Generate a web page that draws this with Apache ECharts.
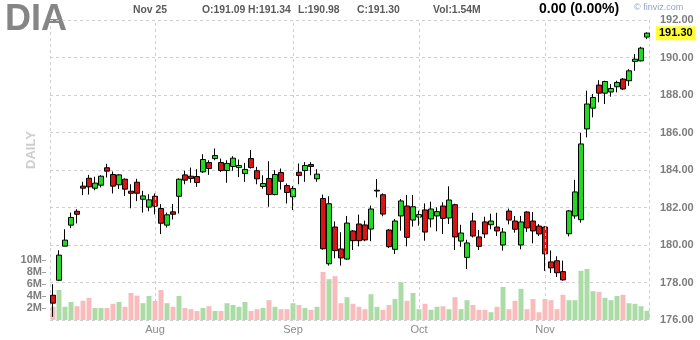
<!DOCTYPE html>
<html>
<head>
<meta charset="utf-8">
<script src="https://cdn.jsdelivr.net/npm/echarts@6/dist/echarts.min.js"></script>
<style>
html,body{margin:0;padding:0;background:#fff;}
#chart{width:700px;height:340px;}
</style>
</head>
<body>
<div id="chart"></div>
<script>
// ---- data ----
const ticker = 'DIA';
const julDays = [7,8,11,12,13,14,15,18,19,20,21,22,25,26,27,28,29];
const augDays = [1,2,3,4,5,8,9,10,11,12,15,16,17,18,19,22,23,24,25,26,29,30,31];
const sepDays = [1,2,6,7,8,9,12,13,14,15,16,19,20,21,22,23,26,27,28,29,30];
const octDays = [3,4,5,6,7,10,11,12,13,14,17,18,19,20,21,24,25,26,27,28,31];
const novDays = [1,2,3,4,7,8,9,10,11,14,15,16,17,18,21,22,23,25];
const monthNames = ['Jan','Feb','Mar','Apr','May','Jun','Jul','Aug','Sep','Oct','Nov','Dec'];
const priceTicks = [176,178,180,182,184,186,188,190,192];
const volumeTicks = [2,4,6,8,10];

// [open, close, low, high]
const ohlc = [
[177.32,176.90,176.17,177.91],[178.12,179.46,178.10,179.72],[179.94,180.26,179.94,180.84],[181.06,181.47,180.90,181.73],[181.80,181.64,181.15,181.91],
[183.14,183.03,182.66,183.37],[183.56,183.10,182.69,183.74],[183.03,183.30,182.92,183.64],[183.19,183.67,183.07,183.72],[184.12,183.94,183.60,184.33],
[183.76,183.14,182.75,183.92],[183.21,183.74,182.98,183.78],[183.51,182.98,182.62,183.55],[182.87,182.76,181.96,183.24],[183.35,182.76,182.34,183.53],
[182.44,182.62,181.73,182.89],[182.02,182.41,181.80,182.71],[182.60,182.07,181.63,182.75],[181.95,181.16,180.58,182.18],[181.06,181.61,180.93,181.73],
[181.77,181.64,181.36,182.18],[182.60,183.51,181.68,183.55],[183.74,183.46,183.24,183.96],[183.67,183.55,183.32,184.13],[183.65,183.33,183.10,184.04],
[183.90,184.56,183.85,184.84],[184.40,184.08,183.74,184.52],[184.61,184.77,184.52,185.15],[184.40,183.97,183.90,184.61],[183.97,184.35,183.32,184.52],
[184.19,184.63,183.96,184.74],[184.13,184.24,183.62,184.56],[183.81,184.03,183.37,184.38],[184.61,184.13,184.08,185.06],[183.96,183.53,183.24,184.17],
[183.12,183.28,183.00,183.72],[183.55,182.69,182.04,184.47],[182.69,183.76,182.65,183.99],[183.87,183.40,182.96,184.08],[183.17,182.80,182.21,183.28],
[182.57,183.01,181.86,183.14],[183.88,183.71,183.24,184.35],[183.97,184.24,183.37,184.42],[184.29,184.19,183.72,184.42],[183.53,183.78,183.37,184.04],
[182.48,179.80,179.75,182.69],[179.00,182.20,178.90,182.60],[180.96,179.70,179.29,181.26],[179.79,179.31,178.90,180.68],[179.25,181.17,179.22,181.55],
[180.75,180.23,179.73,180.80],[181.12,180.23,179.93,181.62],[181.07,180.27,180.20,181.30],[180.85,181.92,180.20,182.10],[182.88,182.92,182.54,183.52],
[182.68,181.65,181.53,182.75],[180.80,179.91,179.84,180.85],[179.77,181.28,179.52,181.39],[181.55,182.35,180.76,182.45],[182.08,180.41,179.93,182.67],
[181.33,182.04,180.98,182.67],[181.49,181.62,181.03,181.83],[181.87,180.69,180.23,182.22],[181.39,181.92,180.94,182.31],[181.55,181.78,180.73,182.01],
[182.08,181.42,180.59,182.28],[181.44,182.40,181.12,183.13],[182.15,180.43,179.73,182.20],[180.21,180.64,179.91,181.08],[179.34,180.11,178.72,180.28],
[181.28,180.48,180.40,181.72],[180.43,179.93,179.73,180.80],[181.23,180.59,180.37,181.51],[181.08,181.28,180.84,181.67],[180.96,180.75,180.48,181.72],
[180.00,180.69,179.70,180.91],[181.81,181.33,181.10,181.94],[181.28,180.84,180.66,181.55],[180.00,181.23,179.77,181.55],[181.76,180.91,180.69,181.80],
[181.28,180.75,180.09,181.76],[181.01,180.59,180.48,181.12],[180.96,179.53,178.62,181.00],[179.10,178.78,178.50,179.71],[179.16,178.52,178.29,179.40],
[178.58,178.14,178.10,179.17],[180.60,181.82,180.46,181.87],[181.55,182.83,181.40,183.48],[181.35,185.39,181.19,185.98],[186.19,187.52,185.74,188.23],
[187.30,187.87,186.81,188.05],[188.53,188.10,187.61,188.79],[188.10,188.72,187.52,188.76],[188.16,188.35,187.91,188.58],[188.44,188.67,188.14,188.76],
[188.85,188.32,188.26,188.90],[188.76,189.29,188.49,189.38],[189.79,189.91,189.29,190.18],[189.82,190.50,189.79,190.57],[191.09,191.30,190.98,191.34]
];

// volume in millions
const volume = [
2.2,5.0,2.2,3.0,2.3,3.2,3.7,2.0,2.0,2.0,
2.7,3.0,2.2,4.5,4.05,2.8,4.0,3.2,5.0,2.8,
2.2,4.0,2.0,1.8,1.5,2.0,2.3,1.5,1.5,2.8,
2.5,2.2,3.0,1.5,1.8,2.0,3.3,2.2,1.8,1.8,
2.8,2.5,2.0,1.7,2.2,8.0,6.8,7.3,2.8,3.8,
2.7,2.2,1.8,4.3,2.2,1.7,2.5,3.5,6.3,3.2,
4.5,1.8,2.7,1.7,2.2,2.3,1.8,3.8,1.8,3.3,
2.5,1.7,1.7,1.3,2.2,5.5,1.8,3.2,5.2,1.8,
3.5,1.3,3.5,3.3,1.8,4.2,3.3,3.3,8.2,8.5,
4.8,4.7,3.7,3.3,4.0,4.2,2.8,2.7,2.3,1.54
];

// ---- build ----
const pad = d => (d < 10 ? '0' : '') + d;
const dates = [].concat(
  julDays.map(d => '2016-07-' + pad(d)),
  augDays.map(d => '2016-08-' + pad(d)),
  sepDays.map(d => '2016-09-' + pad(d)),
  octDays.map(d => '2016-10-' + pad(d)),
  novDays.map(d => '2016-11-' + pad(d))
);
const isMonthStart = i => i > 0 && dates[i].slice(5, 7) !== dates[i - 1].slice(5, 7);
const monthStarts = dates.filter((d, i) => isMonthStart(i));

const GREEN = '#22d922', RED = '#d91414';
const VGREEN = '#acdca6', VRED = '#f8bcbc';
const volData = volume.map((v, i) => ({
  value: v,
  itemStyle: { color: ohlc[i][1] >= ohlc[i][0] ? VGREEN : VRED }
}));

const last = ohlc[ohlc.length - 1];
const lastDate = dates[dates.length - 1];
const lastLabel = monthNames[+lastDate.slice(5, 7) - 1] + ' ' + (+lastDate.slice(8, 10));
const change = 0; // shown as in source header
const FONT = '"Liberation Sans", Arial, sans-serif';
const HFONT = 'bold 10.4px ' + FONT;
const dashed = { color: '#cfcfcf', type: [3, 3], width: 1 };

const chart = echarts.init(document.getElementById('chart'), null, { renderer: 'canvas' });
const option = {
  animation: false,
  textStyle: { fontFamily: FONT },
  grid: [
    { left: 50, top: 20, width: 600, height: 300 },
    { left: 50, top: 260, width: 600, height: 60 }
  ],
  xAxis: [
    {
      type: 'category', gridIndex: 0, data: dates, boundaryGap: true,
      axisLine: { show: false }, axisTick: { show: false }, splitLine: { show: false },
      axisLabel: {
        interval: (i) => isMonthStart(i),
        formatter: v => monthNames[+v.slice(5, 7) - 1],
        color: '#8a8a8a', fontSize: 11, margin: 4, fontFamily: FONT
      }
    },
    { type: 'category', gridIndex: 1, data: dates, boundaryGap: true, show: false }
  ],
  yAxis: [
    {
      type: 'value', gridIndex: 0, position: 'right', min: 176, max: 192, interval: 2,
      axisLine: { show: false }, axisTick: { show: false },
      splitLine: { show: true, lineStyle: dashed },
      axisLabel: {
        customValues: priceTicks,
        formatter: v => v.toFixed(2), color: '#7d7d7d', fontSize: 11, fontWeight: 'bold',
        margin: 10, fontFamily: FONT
      }
    },
    {
      type: 'value', gridIndex: 1, position: 'left', min: 0, max: 10, interval: 2, offset: 4,
      axisLine: { show: false },
      axisTick: { show: true, length: 4, customValues: volumeTicks, lineStyle: { color: '#9a9a9a' } },
      splitLine: { show: false },
      axisLabel: {
        customValues: volumeTicks,
        formatter: v => v + 'M', color: '#7d7d7d', fontSize: 11, fontWeight: 'bold',
        margin: 4, fontFamily: FONT
      }
    }
  ],
  graphic: [
    { type: 'line', silent: true, shape: { x1: 50.5, y1: 20, x2: 50.5, y2: 320 }, style: { stroke: '#cfcfcf', lineDash: [3, 3] }, z: 0 },
    { type: 'line', silent: true, shape: { x1: 649.5, y1: 20, x2: 649.5, y2: 320 }, style: { stroke: '#cfcfcf', lineDash: [3, 3] }, z: 0 },
    { type: 'text', left: 5, top: 2, style: { text: ticker, font: 'bold 36px "Liberation Sans Narrow", "Liberation Sans", Arial', fill: '#858585' } },
    { type: 'text', x: 31, y: 150, rotation: Math.PI / 2, style: { text: 'DAILY', font: 'bold 13px ' + FONT, fill: '#cdcdcd', align: 'center', verticalAlign: 'middle' } },
    { type: 'text', x: 133, y: 5, style: { text: lastLabel, font: HFONT, fill: '#5a5a5a' } },
    { type: 'text', x: 202, y: 5, style: { text: 'O:' + last[0].toFixed(2), font: HFONT, fill: '#5a5a5a' } },
    { type: 'text', x: 248, y: 5, style: { text: 'H:' + last[3].toFixed(2), font: HFONT, fill: '#5a5a5a' } },
    { type: 'text', x: 298, y: 5, style: { text: 'L:' + last[2].toFixed(2), font: HFONT, fill: '#5a5a5a' } },
    { type: 'text', x: 357, y: 5, style: { text: 'C:' + last[1].toFixed(2), font: HFONT, fill: '#5a5a5a' } },
    { type: 'text', x: 433, y: 5, style: { text: 'Vol:' + volume[volume.length - 1].toFixed(2) + 'M', font: HFONT, fill: '#5a5a5a' } },
    { type: 'text', x: 539, y: 2, style: { text: change.toFixed(2) + ' (' + change.toFixed(2) + '%)', font: 'bold 14px ' + FONT, fill: '#000' } },
    { type: 'text', x: 634, y: 3, style: { text: '\u00a9 finviz.com', font: '9px ' + FONT, fill: '#8fa6c8' } }
  ],
  series: [
    {
      type: 'bar', xAxisIndex: 1, yAxisIndex: 1, data: volData, barWidth: 5, z: 1, silent: true
    },
    {
      type: 'candlestick', xAxisIndex: 0, yAxisIndex: 0, data: ohlc, barWidth: 5, z: 3,
      itemStyle: { color: GREEN, color0: RED, borderColor: '#000', borderColor0: '#000', borderWidth: 1 },
      markLine: {
        silent: true, symbol: ['none', 'none'], animation: false,
        data: monthStarts.map(d => ({ xAxis: d, lineStyle: dashed, label: { show: false } }))
          .concat([{ yAxis: last[1], lineStyle: { color: 'rgba(0,0,0,0)', width: 0 },
            label: { show: true, position: 'end', distance: 6, formatter: p => Number(p.value).toFixed(2),
              backgroundColor: '#ffff33', color: '#000', fontSize: 11, fontWeight: 'bold', padding: [2, 3, 1, 3], fontFamily: FONT } }])
      }
    }
  ]
};
chart.setOption(option);
</script>
</body>
</html>
